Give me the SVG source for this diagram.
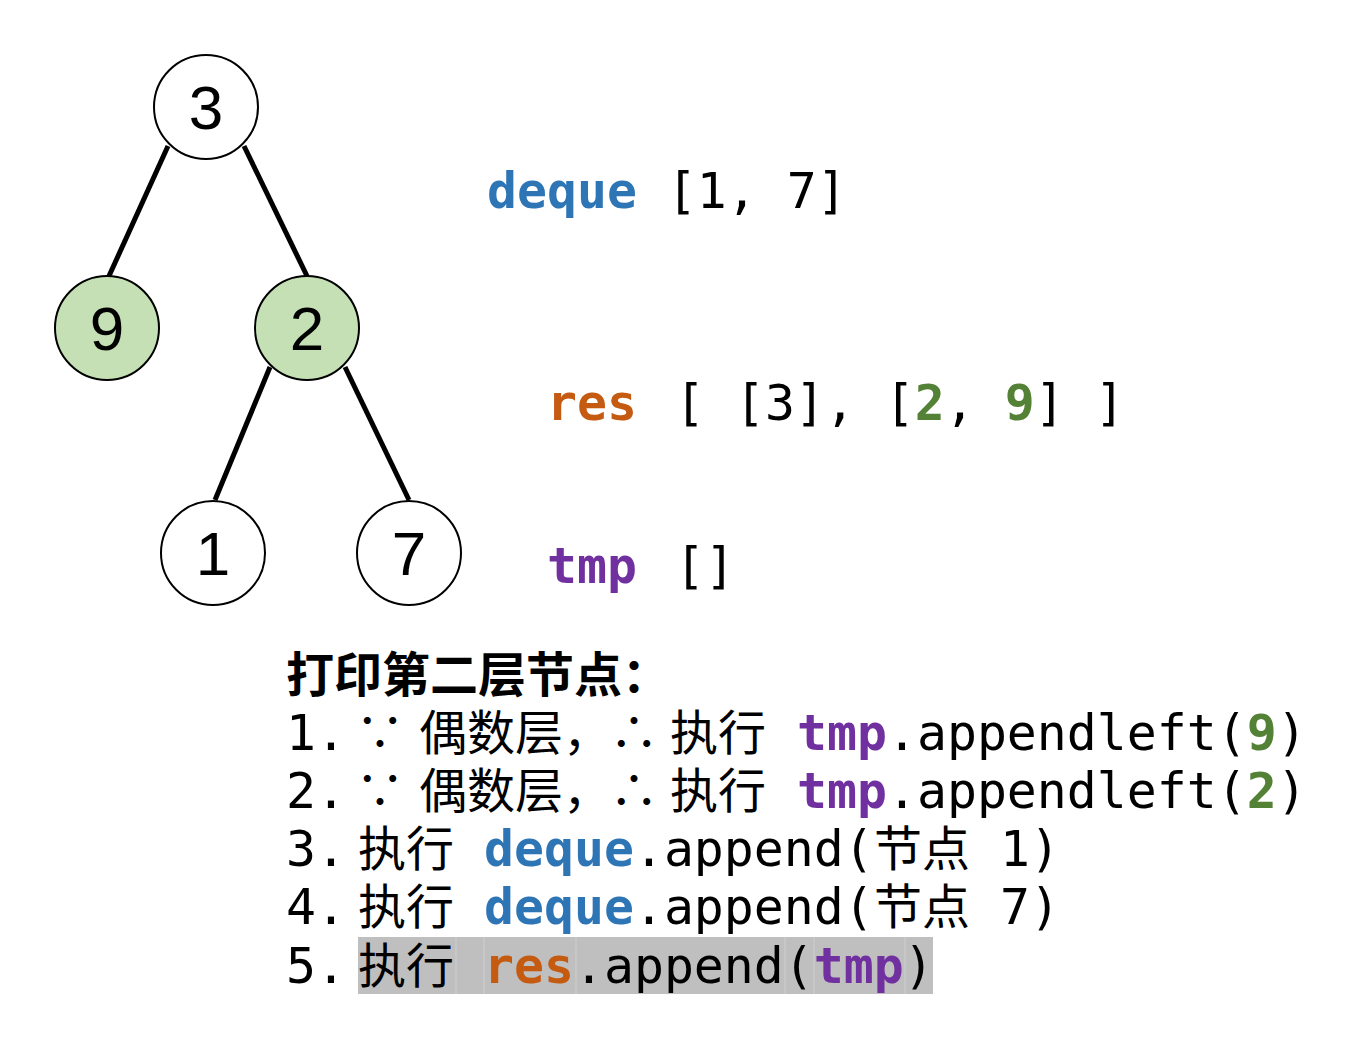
<svg xmlns="http://www.w3.org/2000/svg" width="1362" height="1048" viewBox="0 0 1362 1048">
<style>
.node{stroke:#000;stroke-width:2}
.white{fill:#fff}
.green{fill:#c5e0b4}
.nl{font-family:"Liberation Sans",Arial,sans-serif;font-size:62px;fill:#000;text-anchor:middle}
.edge{stroke:#000;stroke-width:5;stroke-linecap:butt}
.m{font-family:"DejaVu Sans Mono","Liberation Mono",monospace;font-size:49.8px;fill:#000}
.b{font-weight:bold}
.cj{font-family:"Noto Sans CJK SC","Noto Sans",sans-serif;font-size:48px;fill:#000}
.blue{fill:#2e75b6}
.orange{fill:#c55a11}
.purple{fill:#7030a0}
.grn{fill:#538135}
</style>
<g id="connectors">
<line class="edge" x1="168" y1="146" x2="109" y2="276"/>
<line class="edge" x1="244" y1="146" x2="307" y2="276"/>
<line class="edge" x1="270" y1="367" x2="215" y2="500"/>
<line class="edge" x1="345" y1="367" x2="409" y2="500"/>
</g>
<g id="node3"><circle class="node white" cx="206" cy="107" r="52"/><text class="nl" x="206" y="129">3</text></g>
<g id="node9"><circle class="node green" cx="107" cy="328" r="52"/><text class="nl" x="107" y="350">9</text></g>
<g id="node2"><circle class="node green" cx="307" cy="328" r="52"/><text class="nl" x="307" y="350">2</text></g>
<g id="node1"><circle class="node white" cx="213" cy="553" r="52"/><text class="nl" x="213" y="575">1</text></g>
<g id="node7"><circle class="node white" cx="409" cy="553" r="52"/><text class="nl" x="409" y="575">7</text></g>

<g id="state">
<text class="m" x="487" y="208"><tspan class="b blue">deque</tspan> [1, 7]</text>
<text class="m" x="547" y="420"><tspan class="b orange">res</tspan><tspan x="675">[ [3], [</tspan><tspan class="b grn">2</tspan>, <tspan class="b grn">9</tspan>] ]</text>
<text class="m" x="547" y="583"><tspan class="b purple">tmp</tspan><tspan x="675">[]</tspan></text>
</g>

<g id="steps">
<rect x="358" y="937" width="575" height="57" fill="#bfbfbf"/>
<g stroke="#cfcfcf" stroke-width="1">
<line x1="456" y1="937" x2="456" y2="994"/>
<line x1="484" y1="937" x2="484" y2="994"/>
<line x1="576" y1="937" x2="576" y2="994"/>
<line x1="785" y1="937" x2="785" y2="994"/>
<line x1="814" y1="937" x2="814" y2="994"/>
<line x1="905" y1="937" x2="905" y2="994"/>
</g>
<text class="cj b" x="286" y="692">打印第二层节点：</text>

<text class="m" x="286" y="750">1.<tspan class="cj" x="356">∵</tspan><tspan class="cj" x="419">偶数层，</tspan><tspan class="cj" x="610">∴</tspan><tspan class="cj" x="670">执行</tspan><tspan x="797" class="b purple">tmp</tspan>.appendleft(<tspan class="b grn">9</tspan>)</text>

<text class="m" x="286" y="808">2.<tspan class="cj" x="356">∵</tspan><tspan class="cj" x="419">偶数层，</tspan><tspan class="cj" x="610">∴</tspan><tspan class="cj" x="670">执行</tspan><tspan x="797" class="b purple">tmp</tspan>.appendleft(<tspan class="b grn">2</tspan>)</text>

<text class="m" x="286" y="866">3.<tspan class="cj" x="358">执行</tspan><tspan x="484" class="b blue">deque</tspan>.append(<tspan class="cj" x="874">节点</tspan><tspan x="1000">1)</tspan></text>

<text class="m" x="286" y="924">4.<tspan class="cj" x="358">执行</tspan><tspan x="484" class="b blue">deque</tspan>.append(<tspan class="cj" x="874">节点</tspan><tspan x="1000">7)</tspan></text>

<text class="m" x="286" y="983">5.<tspan class="cj" x="358">执行</tspan><tspan x="484" class="b orange">res</tspan>.append(<tspan class="b purple">tmp</tspan>)</text>
</g>
</svg>
